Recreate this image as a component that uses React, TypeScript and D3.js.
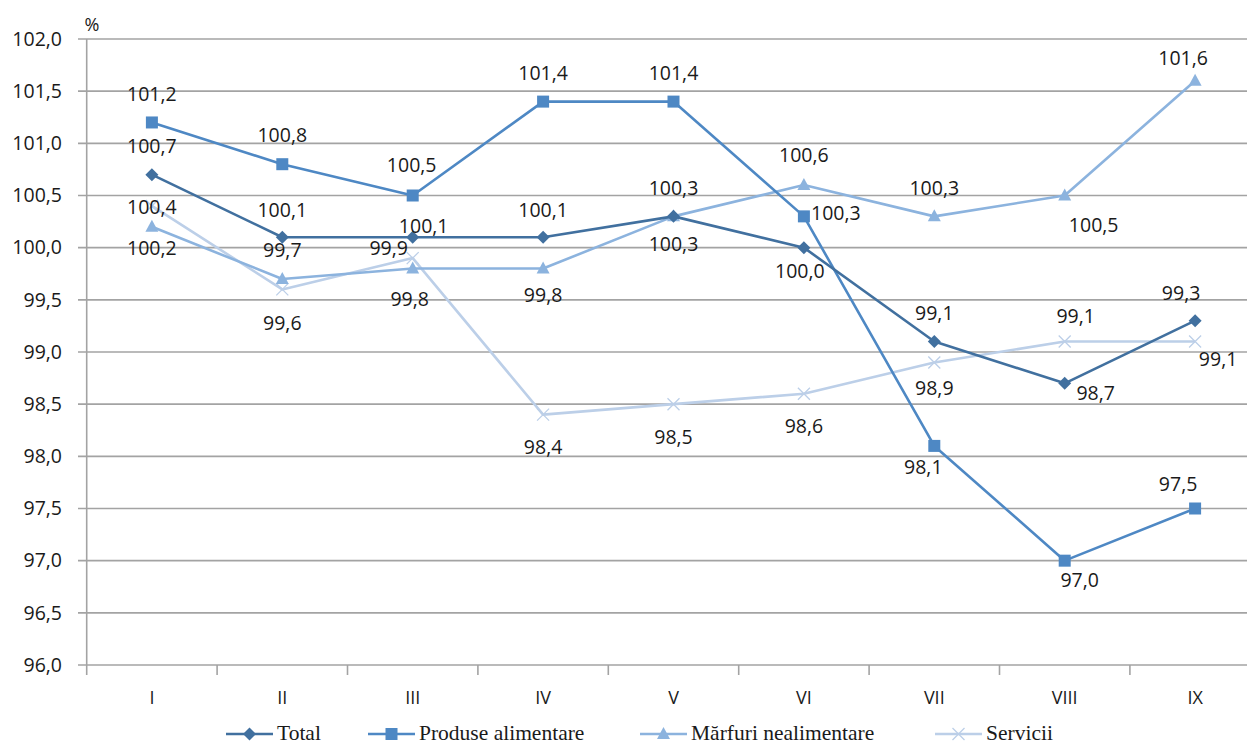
import React, { useEffect, useRef } from "react"
import * as d3 from "d3"

const months = ["I", "II", "III", "IV", "V", "VI", "VII", "VIII", "IX"]
const yTicks = [96, 96.5, 97, 97.5, 98, 98.5, 99, 99.5, 100, 100.5, 101, 101.5, 102]

const total = [100.7, 100.1, 100.1, 100.1, 100.3, 100.0, 99.1, 98.7, 99.3]
const produse = [101.2, 100.8, 100.5, 101.4, 101.4, 100.3, 98.1, 97.0, 97.5]
const marfuri = [100.2, 99.7, 99.8, 99.8, 100.3, 100.6, 100.3, 100.5, 101.6]
const servicii = [100.4, 99.6, 99.9, 98.4, 98.5, 98.6, 98.9, 99.1, 99.1]

const seriesNames = ["Total", "Produse alimentare", "Mărfuri nealimentare", "Servicii"]

// where Excel put each data label, relative to its point
const totalLabelPos = [[0, -28], [0, -27], [11, -11], [0, -27], [0, -28], [-4, 24], [0, -28], [31, 10], [-14, -28]]
const produseLabelPos = [[0, -28], [0, -29], [-1, -30], [0, -28], [0, -28], [32, -3], [-11, 21], [15, 20], [-17, -24]]
const marfuriLabelPos = [[0, 21], [0, -29], [-3, 31], [0, 27], [0, 28], [0, -30], [0, -28], [29, 30], [-12, -23]]
const serviciiLabelPos = [[0, 1], [0, 34], [-24, -10], [0, 33], [0, 33], [0, 32], [0, 26], [11, -25], [23, 18]]

const W = 1247
const H = 746
const fmt = (v: number) => d3.format(".1f")(v).replace(".", ",")

function drawMarker(g: any, type: string, x: number, y: number, color: string) {
    if (type === "diamond") {
        g.append("path").attr("d", `M${x},${y - 6.5}L${x + 6.5},${y}L${x},${y + 6.5}L${x - 6.5},${y}Z`).attr("fill", color)
    } else if (type === "square") {
        g.append("rect").attr("x", x - 6).attr("y", y - 6).attr("width", 12).attr("height", 12).attr("fill", color)
    } else if (type === "triangle") {
        g.append("path").attr("d", `M${x},${y - 7}L${x + 6.5},${y + 5}L${x - 6.5},${y + 5}Z`).attr("fill", color)
    } else {
        g.append("path")
            .attr("d", `M${x - 6},${y - 6}L${x + 6},${y + 6}M${x + 6},${y - 6}L${x - 6},${y + 6}`)
            .attr("stroke", color).attr("stroke-width", 1.3).attr("fill", "none")
    }
}

export default function App() {
    const ref = useRef<SVGSVGElement>(null)

    useEffect(() => {
        const svg = d3.select(ref.current)
        svg.selectAll("*").remove()

        const x = d3.scaleBand().domain(months).range([86.7, 86.7 + 9 * 130.4])
        const y = d3.scaleLinear().domain([96, 102]).range([665, 39])
        const cx = (m: string) => (x(m) as number) + x.bandwidth() / 2

        const grid = "#a3a3a3"
        const labelFont = "'Open Sans', 'Liberation Sans', sans-serif"

        // horizontal gridlines + y labels
        yTicks.forEach(t => {
            svg.append("line").attr("x1", 78).attr("x2", W).attr("y1", y(t)).attr("y2", y(t))
                .attr("stroke", grid).attr("stroke-width", 1.6)
            svg.append("text").attr("x", 62).attr("y", y(t)).attr("dy", "0.35em")
                .attr("text-anchor", "end").attr("font-family", labelFont).attr("font-size", 19.5)
                .attr("fill", "#1a1a1a").text(fmt(t))
        })
        svg.append("text").attr("x", 92).attr("y", 25).attr("dy", "0.35em").attr("text-anchor", "middle")
            .attr("font-family", labelFont).attr("font-size", 18).attr("fill", "#1a1a1a").text("%")

        // left axis + bottom ticks
        svg.append("line").attr("x1", 86.7).attr("x2", 86.7).attr("y1", 39).attr("y2", 675)
            .attr("stroke", grid).attr("stroke-width", 1.6)
        months.forEach(m => {
            const tx = (x(m) as number) + x.bandwidth()
            svg.append("line").attr("x1", tx).attr("x2", tx).attr("y1", 665).attr("y2", 675)
                .attr("stroke", grid).attr("stroke-width", 1.6)
            svg.append("text").attr("x", cx(m)).attr("y", 698).attr("dy", "0.35em").attr("text-anchor", "middle")
                .attr("font-family", labelFont).attr("font-size", 18).attr("fill", "#1a1a1a").text(m)
        })

        const series = [
            { values: total, color: "#41709f", marker: "diamond", pos: totalLabelPos, width: 2.6 },
            { values: produse, color: "#4e88c4", marker: "square", pos: produseLabelPos, width: 2.6 },
            { values: marfuri, color: "#8cb3de", marker: "triangle", pos: marfuriLabelPos, width: 2.6 },
            { values: servicii, color: "#bccfe8", marker: "cross", pos: serviciiLabelPos, width: 2.6 },
        ]

        const line = d3.line<number>().x((d, i) => cx(months[i])).y(d => y(d))

        // draw lightest first so darker lines sit on top
        const order = [3, 2, 1, 0]
        order.forEach(si => {
            const s = series[si]
            const g = svg.append("g")
            g.append("path").attr("d", line(s.values)).attr("fill", "none")
                .attr("stroke", s.color).attr("stroke-width", s.width).attr("stroke-linejoin", "round")
            s.values.forEach((v, i) => drawMarker(g, s.marker, cx(months[i]), y(v), s.color))
        })

        series.forEach(s => {
            s.values.forEach((v, i) => {
                svg.append("text")
                    .attr("x", cx(months[i]) + s.pos[i][0])
                    .attr("y", y(v) + s.pos[i][1])
                    .attr("dy", "0.35em")
                    .attr("text-anchor", "middle")
                    .attr("font-family", labelFont)
                    .attr("font-size", 19.5)
                    .attr("fill", "#1a1a1a")
                    .text(fmt(v))
            })
        })

        // legend
        const legendX = [226, 368, 640, 935]
        const ly = 734
        series.forEach((s, i) => {
            const g = svg.append("g")
            g.append("line").attr("x1", legendX[i]).attr("x2", legendX[i] + 47).attr("y1", ly).attr("y2", ly)
                .attr("stroke", s.color).attr("stroke-width", 2.6)
            drawMarker(g, s.marker, legendX[i] + 23.5, ly, s.color)
            g.append("text").attr("x", legendX[i] + 51).attr("y", ly).attr("dy", "0.3em")
                .attr("font-family", "'Liberation Serif', 'Times New Roman', serif").attr("font-size", 21.5)
                .attr("fill", "#1a1a1a").text(seriesNames[i])
        })
    }, [])

    return (
        <div style={{ position: "absolute", left: 0, top: 0 }}>
            <svg ref={ref} width={W} height={H} style={{ display: "block", background: "#fff" }} />
        </div>
    )
}
